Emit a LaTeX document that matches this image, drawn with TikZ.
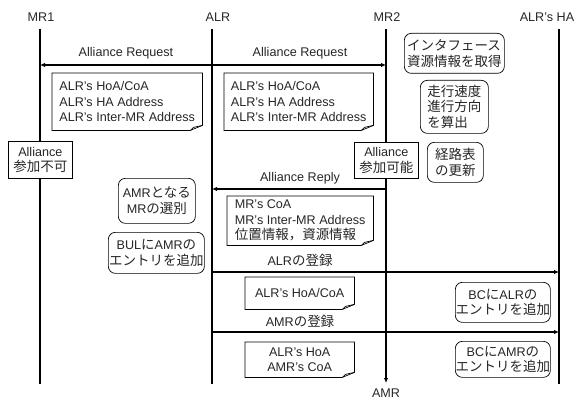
\documentclass[tikz,border=0pt]{standalone}
\usepackage{fontspec}
\setmainfont{Liberation Sans}
\newfontfamily\jpfont{Noto Sans CJK JP}[Scale=1.07]
\usetikzlibrary{arrows.meta}
\newcommand{\jt}[1]{{\jpfont #1}}
\newcommand{\dogear}[1]{%
  \draw[boxline] (#1.north west) -- (#1.north east) -- ([yshift=5pt]#1.south east)
    -- ([xshift=-12pt]#1.south east) -- (#1.south west) -- cycle;
  \draw[boxline] ([yshift=5pt]#1.south east) -- ([xshift=-9pt,yshift=3pt]#1.south east)
    -- ([xshift=-12pt]#1.south east);}
\begin{document}
\begin{tikzpicture}[x=1pt,y=-1pt,
  every node/.style={font=\fontsize{12.6}{15.5}\selectfont, text=black!85},
  life/.style={line width=1.1pt},
  msg/.style={line width=1.5pt, -{Latex[length=5pt,width=4.5pt]}},
  notebox/.style={anchor=north west, inner sep=0pt, align=left},
  rbox/.style={draw, line width=0.7pt, rounded corners=7pt, fill=white, anchor=north west, inner sep=0pt, align=center},
  lbox/.style={rbox, align=left},
  sbox/.style={draw, line width=0.7pt, fill=white, anchor=north west, inner sep=0pt, align=center},
  boxline/.style={line width=0.7pt}]
\useasboundingbox (0,0) rectangle (585,401);
% lifeline labels
\node (mr1) at (41,17) {MR1};
\node (alr) at (218,17) {ALR};
\node (mr2) at (387,17) {MR2};
\node (ha) at (547,17) {ALR’s HA};
\node[inner sep=1pt] (amr) at (386,393) {AMR};
% lifeline coordinates
\coordinate (mr1t) at (40,29);  \coordinate (mr1b) at (40,384);
\coordinate (alrt) at (212,29); \coordinate (alrb) at (212,384);
\coordinate (mr2t) at (386,29); \coordinate (mr2b) at (386,383);
\coordinate (hat) at (559,29);  \coordinate (hab) at (559,384);
\draw[life] (mr1t) -- (mr1b);
\draw[life] (alrt) -- (alrb);
\draw[life,-{Latex[length=5pt,width=4.5pt]}] (mr2t) -- (mr2b);
\draw[life] (hat) -- (hab);
% message coordinates
\coordinate (a65) at (212,65); \coordinate (m1a) at (40,65); \coordinate (m2a) at (386,65);
\coordinate (m2r) at (386,189); \coordinate (ar) at (212,189);
\coordinate (a272) at (212,272); \coordinate (h272) at (559,272);
\coordinate (a332) at (212,332); \coordinate (h332) at (559,332);
\draw[msg] (a65) -- (m1a);
\draw[msg] (a65) -- (m2a);
\draw[msg] (m2r) -- (ar);
\draw[msg] (a272) -- (h272);
\draw[msg] (a332) -- (h332);
\node (lreq1) at (126,53) {Alliance Request};
\node (lreq2) at (300,53) {Alliance Request};
\node (lrep) at (300,178) {Alliance Reply};
\node (lreg1) at (300,260) {ALR\jt{の登録}};
\node (lreg2) at (300,321) {AMR\jt{の登録}};
% notes
\node[notebox, minimum width=150pt, minimum height=57pt] (n1) at (52,73)
  {ALR’s HoA/CoA\\ALR’s HA Address\\ALR’s Inter-MR Address};
\dogear{n1}
\node[notebox, minimum width=149pt, minimum height=57pt] (n2) at (224,73)
  {ALR’s HoA/CoA\\ALR’s HA Address\\ALR’s Inter-MR Address};
\dogear{n2}
\node[notebox, minimum width=146pt, minimum height=49pt] (n3) at (227,196)
  {MR’s CoA\\MR’s Inter-MR Address\\\jt{位置情報，資源情報}};
\dogear{n3}
\node[notebox, align=center, minimum width=109pt, minimum height=32pt] (n4) at (245,277)
  {ALR’s HoA/CoA};
\dogear{n4}
\node[notebox, align=center, minimum width=109pt, minimum height=35pt] (n5) at (245,342)
  {ALR’s HoA\\AMR’s CoA};
\dogear{n5}
% rounded boxes
\node[lbox, minimum width=100pt, minimum height=40pt] (r1) at (404,33)
  {\jt{インタフェース}\\\jt{資源情報を取得}};
\node[lbox, minimum width=68pt, minimum height=53pt] (r2) at (420,80)
  {\jt{走行速度}\\\jt{進行方向}\\\jt{を算出}};
\node[rbox, minimum width=56pt, minimum height=40pt] (r3) at (427,142)
  {\jt{経路表}\\\jt{の更新}};
\node[rbox, minimum width=77pt, minimum height=45pt] (r4) at (118,178)
  {AMR\jt{となる}\\MR\jt{の選別}};
\node[rbox, minimum width=96pt, minimum height=41pt] (r5) at (108,232)
  {BUL\jt{に}AMR\jt{の}\\\jt{エントリを追加}};
\node[rbox, minimum width=95pt, minimum height=40pt] (r6) at (455,282)
  {BC\jt{に}ALR\jt{の}\\\jt{エントリを追加}};
\node[rbox, minimum width=95pt, minimum height=36pt] (r7) at (455,341)
  {BC\jt{に}AMR\jt{の}\\\jt{エントリを追加}};
% square boxes
\node[sbox, minimum width=64pt, minimum height=37pt] (s1) at (8,141)
  {Alliance\\\jt{参加不可}};
\node[sbox, minimum width=64pt, minimum height=36pt] (s2) at (354,142)
  {Alliance\\\jt{参加可能}};
\end{tikzpicture}
\end{document}
